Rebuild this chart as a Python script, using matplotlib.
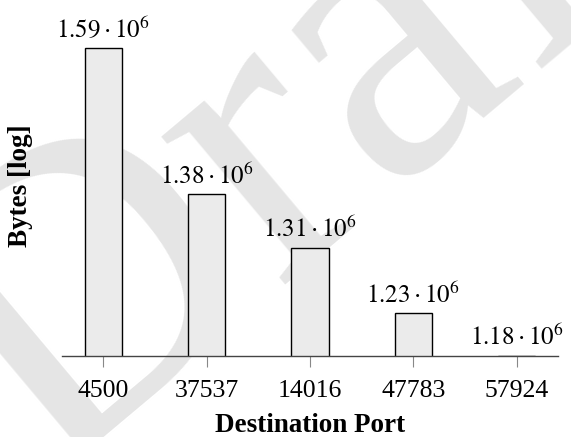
import matplotlib.pyplot as plt
import numpy as np

ports = ['4500', '37537', '14016', '47783', '57924']
bytes_sent = [1.59e6, 1.38e6, 1.31e6, 1.23e6, 1.18e6]
value_labels = [r'$1.59\cdot10^{6}$', r'$1.38\cdot10^{6}$', r'$1.31\cdot10^{6}$',
                r'$1.23\cdot10^{6}$', r'$1.18\cdot10^{6}$']

plt.rcParams['font.family'] = 'Liberation Serif'
plt.rcParams['mathtext.fontset'] = 'stix'

fig = plt.figure(figsize=(5.71, 4.37), dpi=100)
ax = fig.add_axes([62 / 571, 81 / 437, 496 / 571, 340 / 437])
ax.set_zorder(1)
ax.patch.set_alpha(0)

# draft watermark behind the axes
fig.text(0.560, 0.739, 'Draft', fontsize=302, color='#e5e5e5', rotation=40,
         rotation_mode='anchor', ha='center', va='center', zorder=-1)

x = np.arange(len(ports))
bars = ax.bar(x, bytes_sent, width=0.36, color='#ebebeb', edgecolor='black',
              linewidth=1.0, zorder=2)
ax.set_yscale('log')
ax.set_ylim(1.18e6, 1.64e6)
ax.set_xlim(-0.4, len(ports) - 0.6)

for xi, v, lab in zip(x, bytes_sent, value_labels):
    ax.annotate(lab, (xi, v), xytext=(0, 4), textcoords='offset points',
                ha='center', va='bottom', fontsize=18, annotation_clip=False)

ax.set_xticks(x)
ax.set_xticklabels(ports, fontsize=18.5)
ax.tick_params(axis='x', length=8, width=0.8, color='#888888', pad=9)
ax.set_yticks([])
ax.yaxis.set_minor_locator(plt.NullLocator())

for side in ['top', 'right', 'left']:
    ax.spines[side].set_visible(False)
ax.spines['bottom'].set_color('#444444')
ax.spines['bottom'].set_linewidth(1.0)

ax.set_xlabel('Destination Port', fontsize=19.5, fontweight='bold', labelpad=8)
ax.set_ylabel('Bytes [log]', fontsize=19.5, fontweight='bold')
ax.yaxis.set_label_coords(-0.058, 0.5)

fig.savefig('out.png', dpi=100)
